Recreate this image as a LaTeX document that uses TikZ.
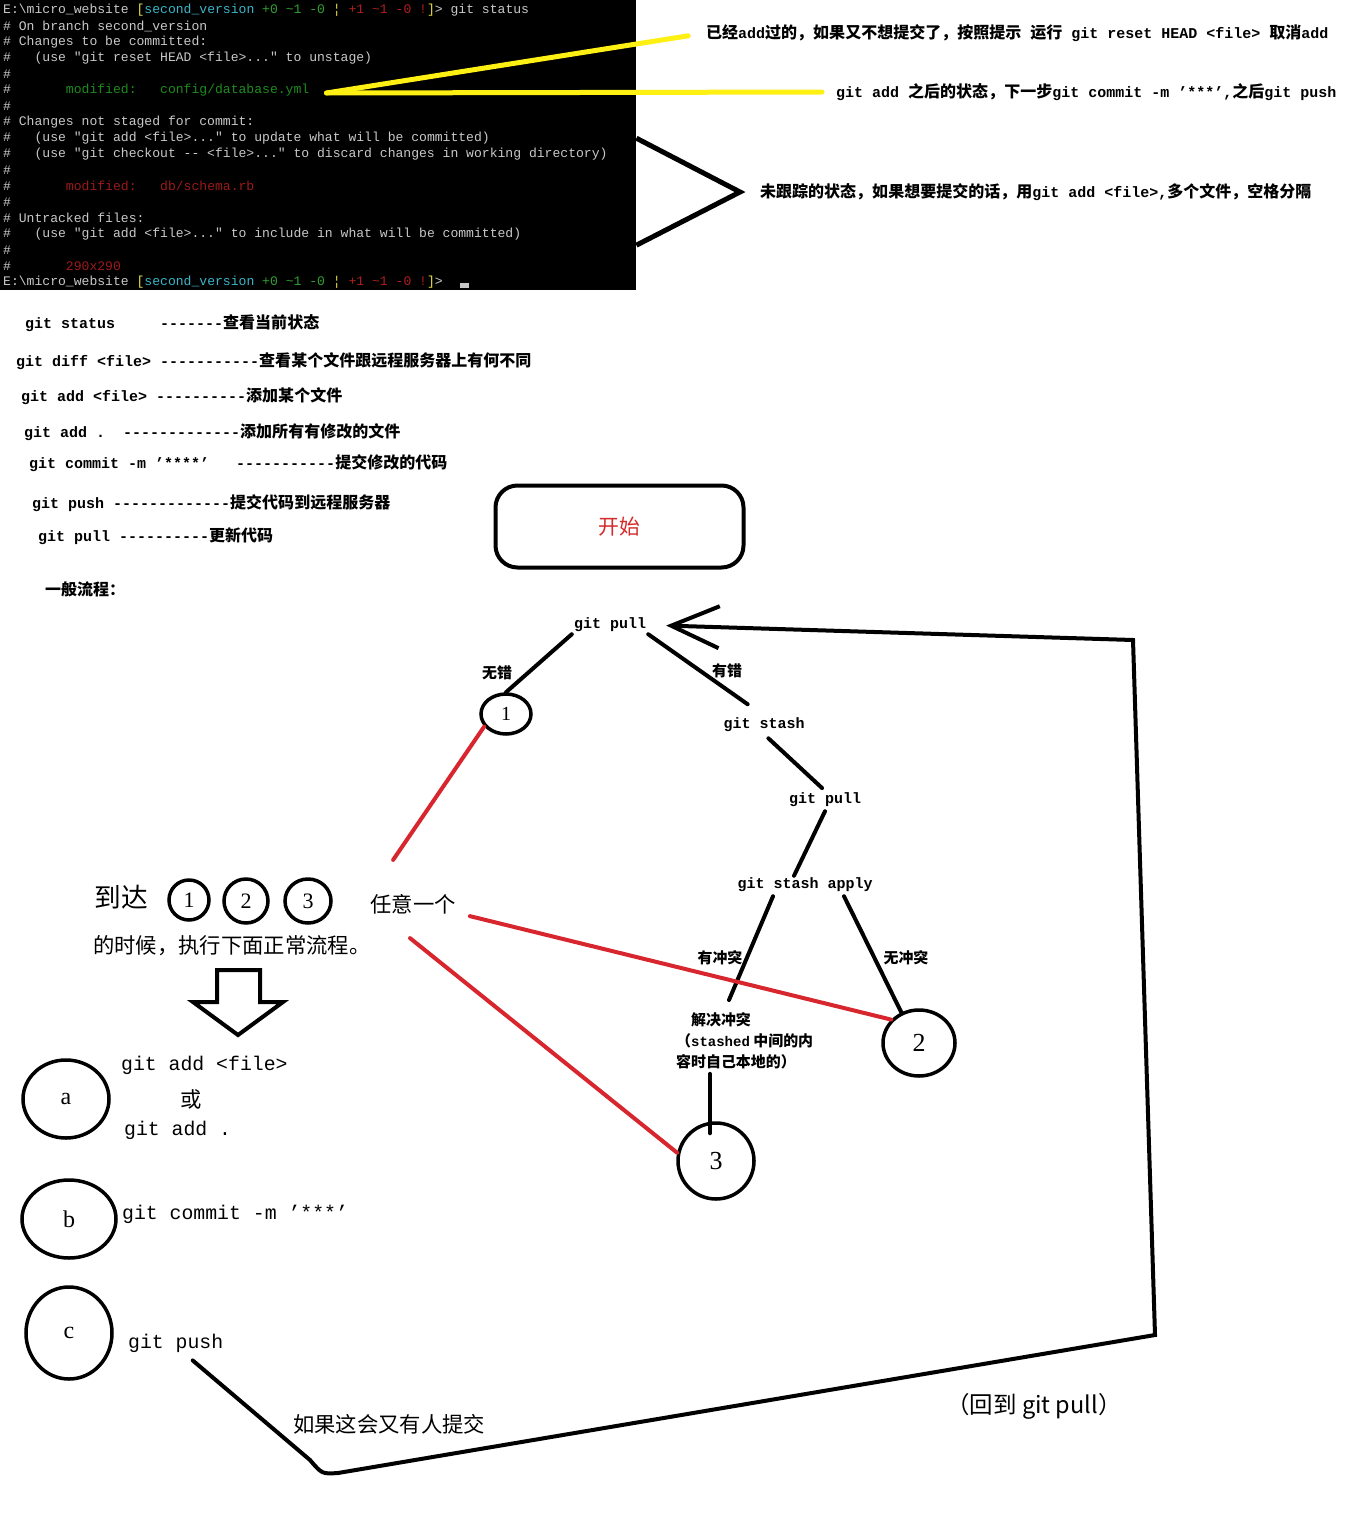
\documentclass[tikz,border=0pt]{standalone}
\usepackage{fontspec}
\setmonofont{Liberation Mono}
\newfontfamily\cjk[Scale=1.067]{Noto Sans CJK SC}
\newfontfamily\numfont{Liberation Serif}
\newcommand{\zh}[1]{{\cjk #1}}
\usepackage{tikz}
\usetikzlibrary{shapes,arrows,arrows.meta,positioning,calc}

\definecolor{termgray}{HTML}{C8C8C8}
\definecolor{termyellow}{HTML}{E8E040}
\definecolor{termcyan}{HTML}{3CB4C8}
\definecolor{termgreen}{HTML}{30A030}
\definecolor{termdkgreen}{HTML}{1E8A1E}
\definecolor{termred}{HTML}{B01E1E}
\definecolor{termdkred}{HTML}{9A1A1A}
\definecolor{hlyellow}{HTML}{FFF014}
\definecolor{linkred}{HTML}{D8262E}
\definecolor{startred}{HTML}{D42A2A}

\begin{document}
\begin{tikzpicture}[
    x=1pt, y=-1pt,
    term/.style={anchor=west, inner sep=0pt, text=termgray, font=\fontsize{13.08}{16}\ttfamily},
    note/.style={anchor=west, inner sep=0pt, font=\fontsize{15}{18}\ttfamily\bfseries},
    cmd/.style={inner sep=2pt, font=\fontsize{15}{18}\ttfamily\bfseries},
    tag/.style={inner sep=1pt, font=\fontsize{14}{21}\cjk\bfseries},
    big/.style={inner sep=0pt, font=\fontsize{20}{24}\cjk},
    bigcmd/.style={anchor=west, inner sep=0pt, font=\fontsize{19.8}{24}\ttfamily},
    num/.style={ellipse, draw, line width=3.5pt, inner sep=0pt, font=\fontsize{26}{30}\numfont},
    link/.style={line width=4pt, line cap=round},
    redlink/.style={link, draw=linkred},
    hl/.style={line width=5pt, draw=hlyellow, line cap=round}
]
    \fill[white] (0,0) rectangle (1360,1538);
    \useasboundingbox (0,0) rectangle (1360,1538);

    % terminal screenshot
    \node[fill=black, minimum width=636pt, minimum height=290pt, inner sep=0pt, anchor=north west] (term) at (0,0) {};
    \node[term] (prompt) at (3,10) {E:\textbackslash micro\_website {\color{termyellow}[}{\color{termcyan}second\_version} {\color{termgreen}+0 \textasciitilde1 -0} {\color{termyellow}¦} {\color{termred}+1 \textasciitilde1 -0 !}{\color{termyellow}]}> git status};
    \node[term] (branch) at (3,26) {\# On branch second\_version};
    \node[term] (tobecommitted) at (3,42) {\# Changes to be committed:};
    \node[term] (unstage) at (3,58) {\#~~~(use "git reset HEAD <file>..." to unstage)};
    \node[term] (staged) at (3,90) {\#~~~~~~~{\color{termdkgreen}modified:~~~config/database.yml}};
    \node[term] (notstaged) at (3,122) {\# Changes not staged for commit:};
    \node[term] (update) at (3,138) {\#~~~(use "git add <file>..." to update what will be committed)};
    \node[term] (discard) at (3,154) {\#~~~(use "git checkout -{}- <file>..." to discard changes in working directory)};
    \node[term] (changed) at (3,186) {\#~~~~~~~{\color{termdkred}modified:~~~db/schema.rb}};
    \node[term] (untracked) at (3,218) {\# Untracked files:};
    \node[term] (include) at (3,234) {\#~~~(use "git add <file>..." to include in what will be committed)};
    \node[term] (newfile) at (3,266) {\#~~~~~~~{\color{termdkred}290x290}};
    \node[term] (prompt2) at (3,282) {E:\textbackslash micro\_website {\color{termyellow}[}{\color{termcyan}second\_version} {\color{termgreen}+0 \textasciitilde1 -0} {\color{termyellow}¦} {\color{termred}+1 \textasciitilde1 -0 !}{\color{termyellow}]}>};
    \foreach \y in {74,106,170,202,250}
        \node[term] (hash\y) at (3,\y) {\#};
    \fill[termgray] (460,283) rectangle (469,288);

    % notes on the right
    \node[note] (reset) at (706,33) {\zh{已经}add\zh{过的，如果又不想提交了，按照提示} \zh{运行} git reset HEAD <file> \zh{取消}add};
    \node[note] (commit) at (836,92) {git add \zh{之后的状态，下一步}git commit -m ’***’,\zh{之后}git push};
    \node[note] (addfile) at (760,192) {\zh{未跟踪的状态，如果想要提交的话，用}git add <file>,\zh{多个文件，空格分隔}};

    \draw[hl, shorten >=18pt] ($(staged.east)+(17,3)$) -- (reset.west);
    \draw[hl, shorten >=14pt] ($(staged.east)+(17,3)$) -- (commit.west);
    \draw[link, line width=5pt, line cap=butt, line join=miter] ($(term.east)+(0,-7)$) -- ($(addfile.west)+(-20,0)$) -- ($(term.east)+(0,100)$);

    % command list
    \node[note] (status) at (25,323) {git status~~~~~-------\zh{查看当前状态}};
    \node[note] (diff) at (16,361) {git diff <file> -----------\zh{查看某个文件跟远程服务器上有何不同}};
    \node[note] (addone) at (21,396) {git add <file> ----------\zh{添加某个文件}};
    \node[note] (addall) at (24,432) {git add .~~-------------\zh{添加所有有修改的文件}};
    \node[note] (commitmsg) at (29,463) {git commit -m ’****’~~~-----------\zh{提交修改的代码}};
    \node[note] (push) at (32,503) {git push -------------\zh{提交代码到远程服务器}};
    \node[note] (pull) at (38,536) {git pull ----------\zh{更新代码}};
    \node[note] (flow) at (45,589) {\zh{一般流程：}};

    % flow
    \node[draw, line width=4pt, rounded corners=22pt, minimum width=248pt, minimum height=82pt, text=startred, font=\fontsize{19.5}{23}\cjk] (start) at (619.5,526.5) {开始};

    \node[cmd] (pull1) at (610,625) {git pull};
    \node[num, minimum width=50pt, minimum height=40pt, font=\fontsize{20}{24}\numfont] (one) at (506,714) {1};
    \node[tag] (noerr) at (497,673) {无错};
    \node[tag] (err) at (727,671) {有错};
    \node[cmd] (stash) at (764,725) {git stash};
    \node[cmd] (pull2) at (825,800) {git pull};
    \node[cmd] (apply) at (805,885) {git stash apply};
    \node[tag] (conflict) at (720,958) {有冲突};
    \node[tag] (noconflict) at (906,958) {无冲突};
    \node[tag, align=left, anchor=north west] (resolve) at (675,1011) {\hspace{1em}解决冲突\\（{\ttfamily stashed} 中间的内\\容时自己本地的）};
    \node[num, minimum width=72pt, minimum height=66pt] (two) at (919,1043) {2};
    \node[num, minimum width=76pt, minimum height=76pt] (three) at (716,1161) {3};

    \draw[link] (pull1.south west) -- (one.north);
    \draw[link, shorten >=20pt] (pull1.south east) -- (stash.north);
    \draw[link, shorten <=6pt, shorten >=4pt] (stash.south) -- (pull2.north);
    \draw[link] ($(pull2.south)+(0,2)$) -- ($(apply.north)+(-11,0)$);
    \draw[link] ($(apply.south)+(-32,2)$) -- ($(resolve.north west)+(54,-11)$);
    \draw[link] ($(apply.south)+(39,2)$) -- (two.120);
    \draw[link] ($(resolve.south west)+(35,4)$) -- ($(three.north)+(-6,12)$);

    % reach any of 1 2 3
    \node[big, font=\fontsize{25}{30}\cjk] (reach) at (121,897) {到达};
    \node[num, minimum width=40pt, minimum height=40pt, font=\fontsize{22}{26}\numfont] (r1) at (189,900) {1};
    \node[num, minimum width=44pt, minimum height=44pt, font=\fontsize{22}{26}\numfont] (r2) at (246,901) {2};
    \node[num, minimum width=46pt, minimum height=44pt, font=\fontsize{22}{26}\numfont] (r3) at (308,901) {3};
    \node[big] (any) at (413,904) {任意一个};
    \node[big, anchor=west] (when) at (93,946) {的时候，执行下面正常流程。};

    \draw[redlink] (one.210) -- ($(any.north west)+(23,-34)$);
    \draw[redlink] ($(any.south east)+(14,2)$) -- (two.140);
    \draw[redlink] ($(any.south)+(-3,24)$) -- (three.168);

    \draw[line width=4pt, line join=miter] (217,970) -- (260,970) -- (260,1002) -- (283,1002) -- (238,1035) -- (193,1002) -- (217,1002) -- cycle;

    % normal steps
    \node[num, minimum width=86pt, minimum height=78pt, font=\fontsize{24}{28}\numfont] (a) at (66,1099) {a};
    \node[num, minimum width=94pt, minimum height=78pt, font=\fontsize{24}{28}\numfont] (b) at (69,1219) {b};
    \node[num, minimum width=86pt, minimum height=92pt, font=\fontsize{24}{28}\numfont] (c) at (69,1333) {c};
    \node[bigcmd] (addfile2) at (121,1065) {git add <file>};
    \node[big] (or) at (191,1099) {或};
    \node[bigcmd] (addall2) at (124,1130) {git add .};
    \node[bigcmd] (commit2) at (122,1214) {git commit -m ’***’};
    \node[bigcmd] (push2) at (128,1343) {git push};

    \node[big, anchor=west] (again) at (293,1424) {如果这会又有人提交};
    \node[big, font=\fontsize{22}{26}\cjk] (back) at (1034,1406) {（回到 git pull）};

    \draw[link, -{Straight Barb[length=48pt, width=42pt]}, shorten >=18pt] ($(push2.south)+(17,8)$) -- (310,1460) .. controls (322,1474) .. (338,1473) -- (1155,1335) -- (1133,640) -- (pull1.east);
\end{tikzpicture}
\end{document}
